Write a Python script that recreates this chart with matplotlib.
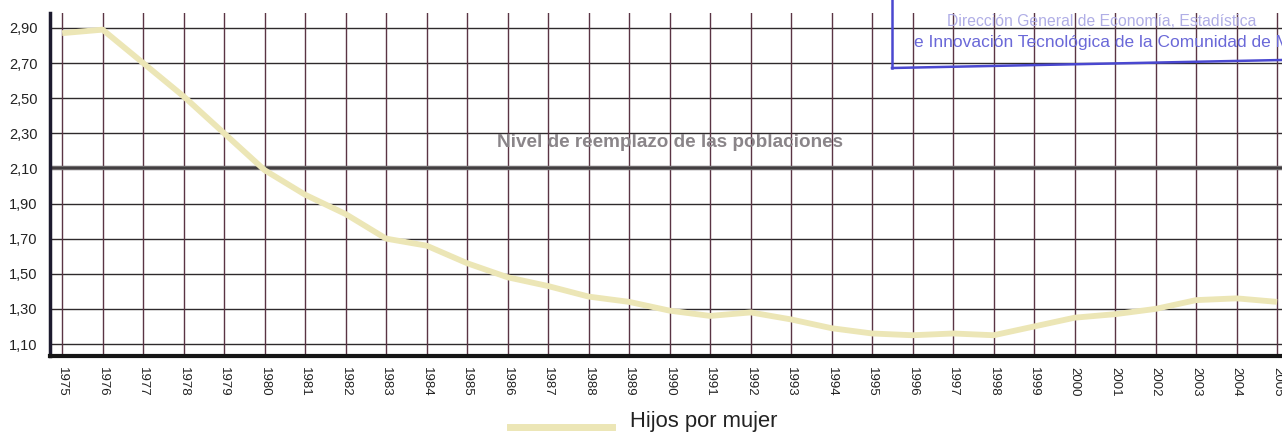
import matplotlib.pyplot as plt
from matplotlib.lines import Line2D

plt.rcParams['font.family'] = ['Liberation Sans', 'DejaVu Sans']

years = list(range(1975, 2006))
hijos = [2.87, 2.89, 2.70, 2.51, 2.30, 2.09, 1.95, 1.84, 1.70, 1.66,
         1.56, 1.48, 1.43, 1.37, 1.34, 1.29, 1.26, 1.28, 1.24, 1.19,
         1.16, 1.15, 1.16, 1.15, 1.20, 1.25, 1.27, 1.30, 1.35, 1.36, 1.34]
yticks = [1.10, 1.30, 1.50, 1.70, 1.90, 2.10, 2.30, 2.50, 2.70, 2.90]
reemplazo = 2.10

fig = plt.figure(figsize=(12.82, 4.32), dpi=100)
ax = fig.add_axes([0.039, 0.176, 0.961, 0.794])

for y in yticks:
    ax.axhline(y, color="#2e2a2c", lw=1.0, zorder=1)
for x in years:
    ax.axvline(x, color="#5a3444", lw=1.0, zorder=1)

ax.axhline(reemplazo, color="#6e6a6c", lw=3.2, zorder=2)
ax.axhline(reemplazo, color="#3a3638", lw=1.2, zorder=2)
ax.text(1990.0, 2.25, "Nivel de reemplazo de las poblaciones", color="#8a8589",
        fontsize=13.6, fontweight="bold", ha="center", va="center", zorder=3)

ax.plot(years, hijos, color="#ece6b6", lw=4.2, solid_capstyle="butt", zorder=4)

ax.set_xlim(1974.70, 2005.12)
ax.set_ylim(1.032, 2.985)
ax.set_xticks(years)
ax.set_xticklabels([str(y) for y in years], rotation=-90, fontsize=9.5, color="#222222")
ax.set_yticks(yticks)
ax.set_yticklabels([("%.2f" % v).replace(".", ",") for v in yticks], fontsize=10.5, color="#222222")
ax.tick_params(length=0, pad=8)
ax.tick_params(axis="y", pad=9)

for s in ["top", "right"]:
    ax.spines[s].set_visible(False)
ax.spines["left"].set_color("#1c1a2e")
ax.spines["left"].set_linewidth(2.5)
ax.spines["bottom"].set_color("#151515")
ax.spines["bottom"].set_linewidth(3)

# sello sobre el escaneado
fig.add_artist(Line2D([892 / 1282, 892 / 1282], [1.0, 1 - 68 / 432], color="#4a48d0", lw=1.8))
fig.add_artist(Line2D([892 / 1282, 1.0], [1 - 68 / 432, 1 - 60 / 432], color="#4a48d0", lw=1.8))
fig.text(0.739, 1 - 22 / 432, "Dirección General de Economía, Estadística", color="#b0aee6",
         fontsize=11.3, va="center", ha="left")
fig.text(0.713, 1 - 43 / 432, "e Innovación Tecnológica de la Comunidad de Madrid", color="#6a68d8",
         fontsize=12.5, va="center", ha="left")

# leyenda
fig.add_artist(Line2D([510 / 1282, 612 / 1282], [1 - 427 / 432, 1 - 427 / 432], color="#ece6b6", lw=5))
fig.text(630 / 1282, 1 - 421 / 432, "Hijos por mujer", fontsize=15.8, color="#222222", va="center")

fig.savefig("out.png", dpi=100)
